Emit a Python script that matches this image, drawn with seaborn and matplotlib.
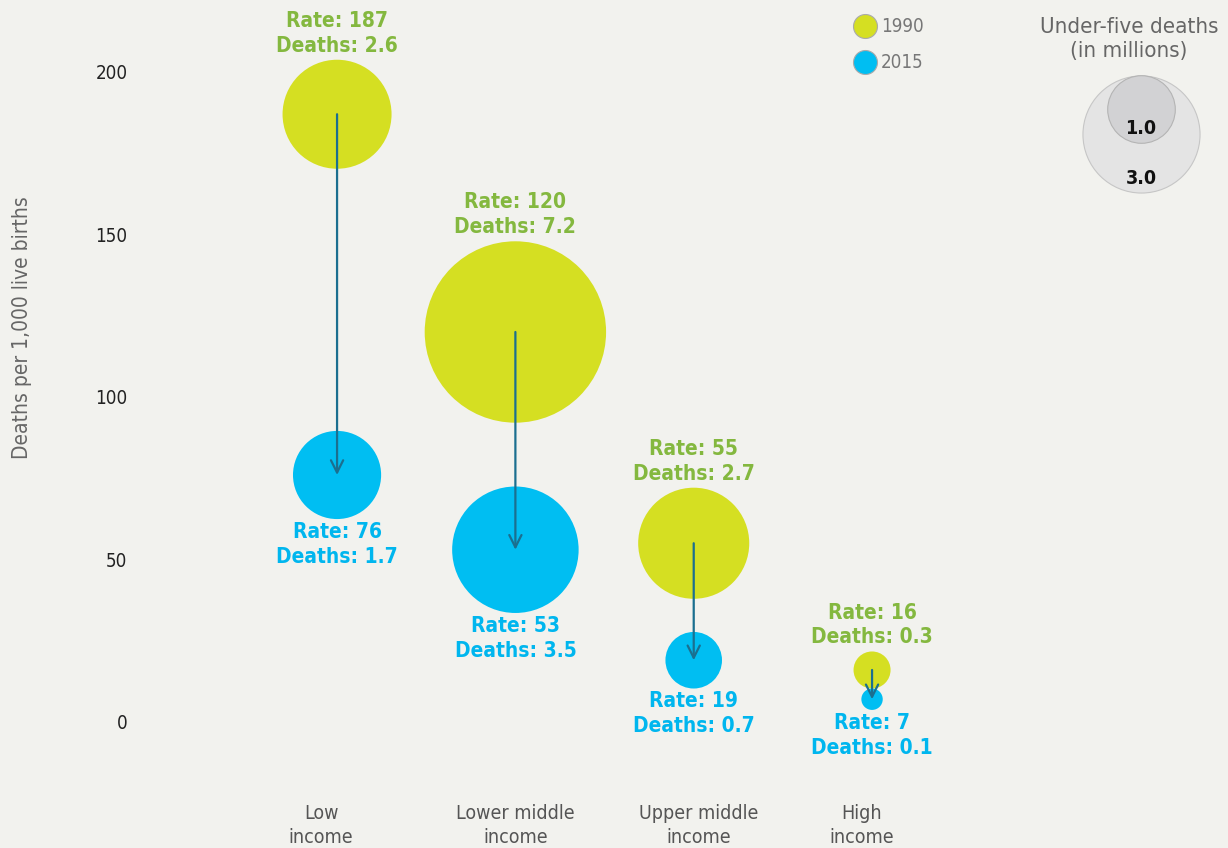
import numpy as np
import pandas as pd
import matplotlib
matplotlib.use("Agg")
import matplotlib.pyplot as plt
import seaborn as sns

# data
groups = ["Low\nincome", "Lower middle\nincome", "Upper middle\nincome", "High\nincome"]
rate_1990 = [187, 120, 55, 16]
rate_2015 = [76, 53, 19, 7]
deaths_1990 = [2.6, 7.2, 2.7, 0.3]
deaths_2015 = [1.7, 3.5, 0.7, 0.1]
years = ["1990", "2015"]
legend_sizes = [3.0, 1.0]
yticks = [0, 50, 100, 150, 200]

BG = "#f2f2ee"
C90 = "#d5df22"
C15 = "#00bef2"
T90 = "#84b83f"
T15 = "#00b6ee"
ARROW = "#1b6f8f"
S_PER_M = 2369  # marker area (pt^2) per million deaths

sns.set_theme(style="white", rc={"axes.facecolor": BG, "figure.facecolor": BG})
plt.rcParams["font.family"] = ["DejaVu Sans"]
plt.rcParams["font.stretch"] = "condensed"

df = pd.DataFrame({
    "pos": list(range(len(groups))) * 2,
    "rate": rate_1990 + rate_2015,
    "deaths": deaths_1990 + deaths_2015,
    "year": [years[0]] * 4 + [years[1]] * 4,
})

fig = plt.figure(figsize=(12.28, 8.48), dpi=100)
ax = fig.add_axes([140 / 1228, 68 / 848, 1088 / 1228, 780 / 848])

sns.scatterplot(data=df, x="pos", y="rate", hue="year",
                palette={"1990": C90, "2015": C15},
                size="deaths", sizes=(0, S_PER_M * 10), size_norm=(0, 10),
                linewidth=0, alpha=1, legend=False, ax=ax, clip_on=False, zorder=2)

# arrows 1990 -> 2015
for i in range(len(groups)):
    ax.annotate("", xy=(i, rate_2015[i]), xytext=(i, rate_1990[i]),
                arrowprops=dict(arrowstyle="->", color=ARROW, lw=1.6,
                                shrinkA=0, shrinkB=0, mutation_scale=22),
                zorder=3)

# value labels
for i in range(len(groups)):
    r = np.sqrt(S_PER_M * deaths_1990[i]) / 2
    ax.annotate(f"Rate: {rate_1990[i]}\nDeaths: {deaths_1990[i]}", xy=(i, rate_1990[i]),
                xytext=(0, r + 3), textcoords="offset points", ha="center", va="bottom",
                color=T90, fontsize=15, fontweight="bold", linespacing=1.3)
    r = np.sqrt(S_PER_M * deaths_2015[i]) / 2
    ax.annotate(f"Rate: {rate_2015[i]}\nDeaths: {deaths_2015[i]}", xy=(i, rate_2015[i]),
                xytext=(0, -r - 2), textcoords="offset points", ha="center", va="top",
                color=T15, fontsize=15, fontweight="bold", linespacing=1.3)

ax.set_xlim(-1.105, 4.996)
ax.set_ylim(-17.85, 222.15)
label_shift = [-0.09, 0, 0.03, -0.06]
ax.set_xticks([i + s for i, s in enumerate(label_shift)])
ax.set_xticklabels(groups, color="#555555", fontsize=14, linespacing=1.35)
ax.set_yticks(yticks)
ax.set_yticklabels([str(v) for v in yticks], color="#222222", fontsize=13.5)
ax.tick_params(axis="x", length=0, pad=17)
ax.tick_params(axis="y", length=0, pad=9)
ax.set_xlabel("")
ax.set_ylabel("")
for sp in ax.spines.values():
    sp.set_visible(False)
ax.grid(False)

fig.text(22 / 1228, 1 - 328 / 848, "Deaths per 1,000 live births", rotation=90,
         ha="center", va="center", color="#666666", fontsize=15)

# legends drawn on a pixel-coordinate overlay
lax = fig.add_axes([0, 0, 1, 1], zorder=5)
lax.set_xlim(0, 1228)
lax.set_ylim(848, 0)
lax.axis("off")
lax.patch.set_alpha(0)

for yr, col, ypix in zip(years, [C90, C15], [26, 62]):
    lax.scatter([865], [ypix], s=298, color=col, edgecolor="#aaaaaa", linewidth=0.8)
    lax.text(881, ypix, yr, ha="left", va="center", color="#777777", fontsize=13.5)

lax.text(1129, 39, "Under-five deaths\n(in millions)", ha="center", va="center",
         color="#666666", fontsize=16, linespacing=1.3)
top = 75
for val, fc, ec in zip(legend_sizes, ["#e4e4e4", "#d2d2d4"], ["#c6c6c6", "#b4b4b4"]):
    s = S_PER_M * val
    rpx = np.sqrt(s) / 2 / 0.72
    lax.scatter([1141], [top + rpx], s=s, color=fc, edgecolor=ec, linewidth=0.8)
    lax.text(1141, top + 2 * rpx - 14, f"{val:.1f}", ha="center", va="center",
             color="#111111", fontsize=14, fontweight="bold")

fig.savefig("out.png", dpi=100, facecolor=BG)
